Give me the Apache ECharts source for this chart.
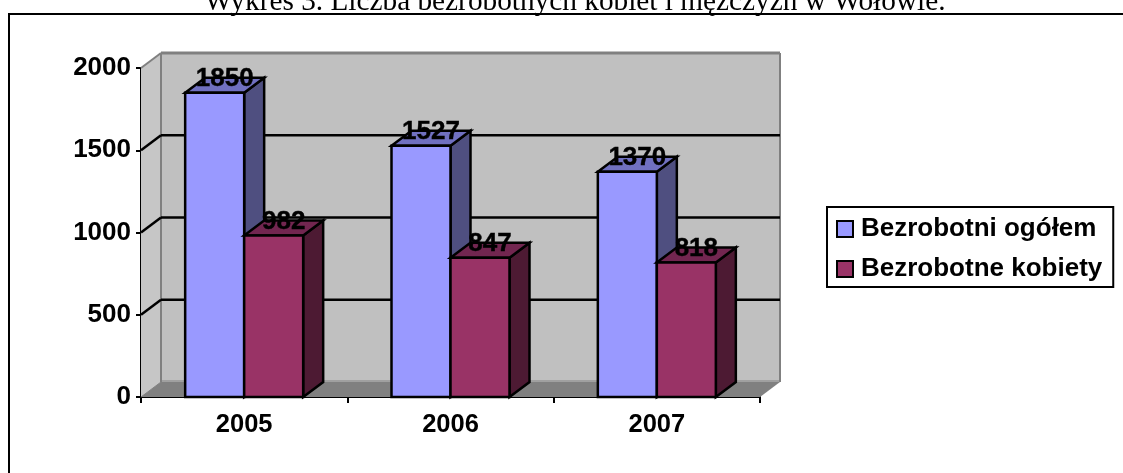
<!DOCTYPE html>
<html><head><meta charset="utf-8">
<style>html,body{margin:0;padding:0;background:#fff}#c{width:1123px;height:473px}</style>
<script src="https://cdn.jsdelivr.net/npm/echarts@6/dist/echarts.min.js"></script>
</head><body><div id="c"></div>
<script>
const categories = ['2005','2006','2007'];
const totalValues = [1850,1527,1370];
const womenValues = [982,847,818];
const yTicks = [500,1000,1500,2000];
const seriesNames = ['Bezrobotni ogółem','Bezrobotne kobiety'];
const titleText = 'Wykres 3. Liczba bezrobotnych kobiet i mężczyzn w Wołowie.';

const DX = 20, DY = -15, BARW = 59;
const FONT = '"Liberation Sans", Arial, sans-serif';
const poly = (pts, fill, stroke, lw) => ({type:'polygon',shape:{points:pts},style:{fill:fill,stroke:stroke||null,lineWidth:lw||0,lineJoin:'miter'}});
const line = (a,b,stroke,lw) => ({type:'line',shape:{x1:a[0],y1:a[1],x2:b[0],y2:b[1]},style:{stroke:stroke,lineWidth:lw}});

function renderWalls(params, api){
  const c = params.coordSys, L=c.x, R=c.x+c.width, T=c.y, B=c.y+c.height;
  const kids = [
    poly([[L+DX,T+DY],[R+DX,T+DY],[R+DX,B+DY],[L+DX,B+DY]],'#C0C0C0'),
    poly([[L,T],[L+DX,T+DY],[L+DX,B+DY],[L,B]],'#C6C6C6'),
    poly([[L,B],[L+DX,B+DY],[R+DX,B+DY],[R,B]],'#808080'),
    line([L+DX,B+DY-1],[R+DX,B+DY-1],'#A0A0A0',2),
    line([L+DX,T+DY],[R+DX,T+DY],'#808080',3),
    line([L+DX,T+DY],[L+DX,B+DY],'#808080',2),
    line([R+DX,T+DY],[R+DX,B+DY],'#808080',2),
    line([L,T],[L+DX,T+DY],'#808080',2),
    line([L,B],[L+DX,B+DY],'#808080',1)
  ];
  yTicks.forEach(v=>{
    if(v>=2000) return;
    const y = api.coord([0,v])[1];
    kids.push(line([L,y],[L+DX,y+DY],'#000',2.5));
    kids.push(line([L+DX,y+DY],[R+DX,y+DY],'#000',2.5));
  });
  return {type:'group',children:kids};
}
function barRenderer(offsetSign, front, top, side){
  return function(params, api){
    const i = api.value(0), v = api.value(1);
    const p = api.coord([i,v]), b = api.coord([i,0]);
    const x0 = offsetSign<0 ? p[0]-BARW : p[0], x1 = x0+BARW, yT=p[1], yB=b[1];
    return {type:'group',children:[
      poly([[x1,yT],[x1+DX,yT+DY],[x1+DX,yB+DY],[x1,yB]],side,'#000',2.5),
      poly([[x0,yT],[x0+DX,yT+DY],[x1+DX,yT+DY],[x1,yT]],top,'#000',2.5),
      poly([[x0,yT],[x1,yT],[x1,yB],[x0,yB]],front,'#000',2.5),
      {type:'text',z2:50,style:{text:String(v),x:(x0+x1)/2+DX/2,y:yT+DY+1,align:'center',verticalAlign:'middle',font:'bold 26px '+FONT,fill:'#000',stroke:'#000',lineWidth:0.4}}
    ]};
  };
}
const chart = echarts.init(document.getElementById('c'),null,{renderer:'canvas'});
chart.setOption({
  animation:false,
  backgroundColor:'#fff',
  title:{text:titleText,left:570,top:-17,textAlign:'center',textStyle:{fontFamily:'"Liberation Serif",serif',fontWeight:'normal',fontSize:29.3,color:'#000'}},
  graphic:[
    {type:'line',z:-1,shape:{x1:9,y1:14,x2:1123,y2:14},style:{stroke:'#000',lineWidth:2}},
    {type:'line',z:-1,shape:{x1:9,y1:13,x2:9,y2:473},style:{stroke:'#000',lineWidth:2}}
  ],
  legend:{left:827,top:207,orient:'vertical',data:seriesNames,icon:'rect',itemWidth:16,itemHeight:16,itemGap:14,padding:[9,11,5,9],
    borderColor:'#000',borderWidth:2,backgroundColor:'#fff',
    itemStyle:{borderColor:'#000',borderWidth:2},
    textStyle:{fontFamily:FONT,fontWeight:'bold',fontSize:26,color:'#000',padding:[0,0,0,3]}},
  grid:{left:141,right:363,top:68,bottom:76},
  xAxis:{type:'category',data:categories,
    axisLine:{lineStyle:{color:'#000',width:2}},axisTick:{show:true,length:6,lineStyle:{color:'#000',width:2}},
    axisLabel:{fontFamily:FONT,fontWeight:'bold',fontSize:25.5,color:'#000',margin:15}},
  yAxis:{type:'value',min:0,max:2000,interval:500,
    axisLine:{show:true,lineStyle:{color:'#000',width:2}},axisTick:{show:true,length:5,lineStyle:{color:'#000',width:2}},
    splitLine:{show:false},
    axisLabel:{fontFamily:FONT,fontWeight:'bold',fontSize:26,color:'#000',margin:10,padding:[3,0,0,0],formatter:v=>String(v)}},
  series:[
    {type:'custom',name:'walls',z:1,silent:true,renderItem:renderWalls,data:[[0,0]],clip:false},
    {type:'custom',name:seriesNames[0],z:3,silent:true,clip:false,renderItem:barRenderer(-1,'#9999FF','#7070C0','#4F4F80'),
      itemStyle:{color:'#9999FF',borderColor:'#000',borderWidth:2},encode:{x:0,y:1},data:totalValues.map((v,i)=>[i,v])},
    {type:'custom',name:seriesNames[1],z:4,silent:true,clip:false,renderItem:barRenderer(1,'#993366','#722650','#4D1A33'),
      itemStyle:{color:'#993366',borderColor:'#000',borderWidth:2},encode:{x:0,y:1},data:womenValues.map((v,i)=>[i,v])}
  ]
});
</script></body></html>
